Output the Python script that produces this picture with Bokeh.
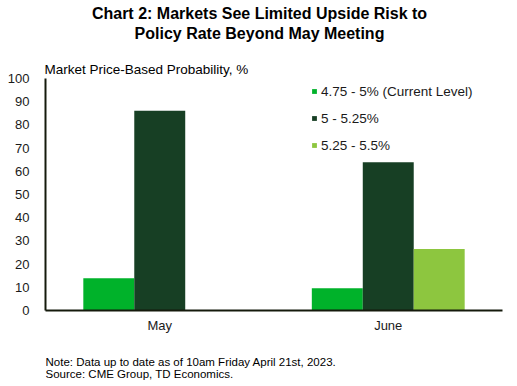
from bokeh.plotting import figure
from bokeh.layouts import column
from bokeh.models import (ColumnDataSource, FactorRange, Label, Legend, LegendItem,
                          SingleIntervalTicker, Title)
from bokeh.transform import dodge
from bokeh.embed import file_html
from bokeh.resources import INLINE

months = ["May", "June"]
series_names = ["4.75 - 5% (Current Level)", "5 - 5.25%", "5.25 - 5.5%"]
s1 = [13.9, 9.6]
s2 = [86.1, 63.9]
s3 = [0.0, 26.5]
colors = ["#00b22a", "#173f24", "#8dc63f"]

FONT = "Liberation Sans"
W = 503
TOP_H, MAIN_H, FOOT_H = 58, 277, 51
FL, FR, FT, FB = 45, 1, 20, 24


def text_fig(h):
    f = figure(width=W, height=h, x_range=(0, W), y_range=(0, h), x_axis_type=None,
               y_axis_type=None, output_backend="svg", toolbar_location=None, min_border=0,
               min_border_left=FL, min_border_right=FR, title=None)
    f.outline_line_color = None
    f.grid.grid_line_color = None
    return f


def lab(f, h, text, x, cy, size, bold=False, align="left"):
    # x: relative to the (aligned) frame left; cy: from the figure top
    f.add_layout(Label(x=x, y=h - cy, x_units="screen", y_units="screen", text=text,
                       text_font=FONT, text_font_size=size, text_align=align,
                       text_baseline="middle", text_color="#000000",
                       text_font_style="bold" if bold else "normal"))


top = text_fig(TOP_H)
lab(top, TOP_H, "Chart 2: Markets See Limited Upside Risk to", 214, 13, "16px", True, "center")
lab(top, TOP_H, "Policy Rate Beyond May Meeting", 214, 33, "16px", True, "center")

src = ColumnDataSource(dict(month=months, s1=s1, s2=s2, s3=s3))

p = figure(width=W, height=MAIN_H, x_range=FactorRange(*months, range_padding=0),
           y_range=(0, 100), output_backend="svg", toolbar_location=None, title=None,
           min_border_left=FL, min_border_right=FR, min_border_top=FT, min_border_bottom=FB)
p.outline_line_color = None
p.grid.grid_line_color = None

p.add_layout(Title(text="Market Price-Based Probability, %", align="left", offset=-1,
                   text_font=FONT, text_font_size="13.5px", text_font_style="normal",
                   text_color="#000000", vertical_align="bottom", standoff=3), "above")

bw = 0.223
renderers = []
for i, col in enumerate(["s1", "s2", "s3"]):
    r = p.vbar(x=dodge("month", (i - 1) * bw, range=p.x_range), top=col, width=bw,
               source=src, fill_color=colors[i], line_color=None)
    renderers.append(r)

legend = Legend(items=[LegendItem(label=series_names[i], renderers=[renderers[i]]) for i in range(3)],
                location=(266, 156), glyph_width=6, glyph_height=6, label_height=18, spacing=9,
                label_standoff=4, padding=0, margin=0, border_line_color=None,
                background_fill_alpha=0, label_text_font=FONT, label_text_font_size="13.5px",
                label_text_color="#1a1a1a")
p.add_layout(legend)

p.yaxis.ticker = SingleIntervalTicker(interval=10)
for ax in (p.xaxis, p.yaxis):
    ax.axis_line_color = "#151a0c"
    ax.axis_line_width = 2
    ax.major_tick_line_color = None
    ax.minor_tick_line_color = None
    ax.major_tick_out = 0
    ax.major_tick_in = 0
    ax.major_label_text_font = FONT
    ax.major_label_text_font_size = "13px"
    ax.major_label_text_color = "#1a1a1a"
p.yaxis.major_label_standoff = 12
p.xaxis.major_label_standoff = 7

foot = text_fig(FOOT_H)
lab(foot, FOOT_H, "Note: Data up to date as of 10am Friday April 21st, 2023.", 0, 26, "11.5px")
lab(foot, FOOT_H, "Source: CME Group, TD Economics.", 0, 38, "11.5px")

layout = column(top, p, foot, spacing=0)
open("out.html", "w").write(file_html(layout, INLINE))
